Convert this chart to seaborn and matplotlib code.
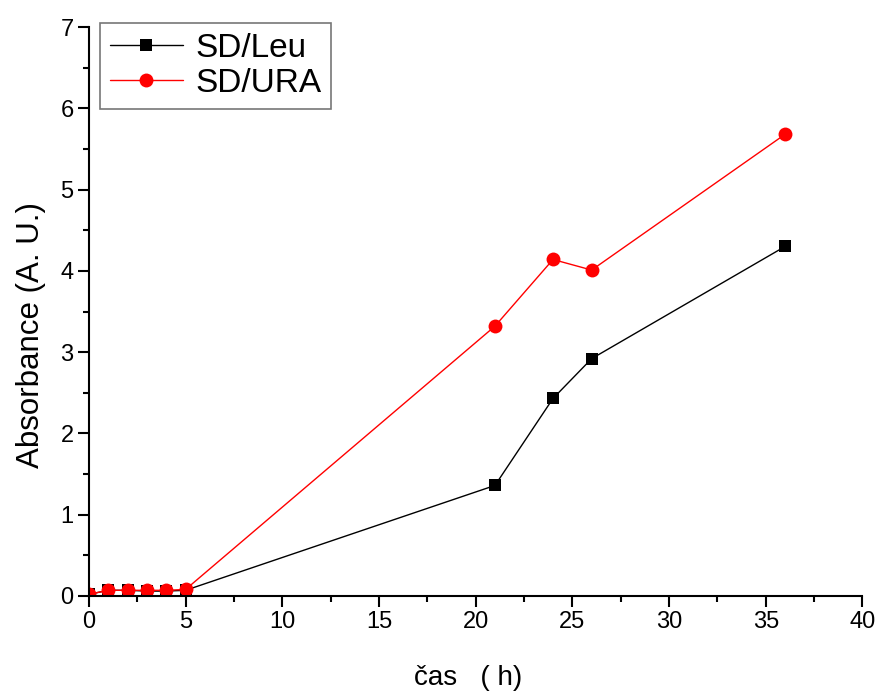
import pandas as pd
import seaborn as sns
import matplotlib.pyplot as plt
from matplotlib.lines import Line2D

# data
time_h = [0, 1, 2, 3, 4, 5, 21, 24, 26, 36]
sd_leu = [0.02, 0.07, 0.07, 0.06, 0.06, 0.07, 1.36, 2.43, 2.92, 4.30]
sd_ura = [0.02, 0.07, 0.07, 0.07, 0.07, 0.08, 3.32, 4.14, 4.01, 5.68]
series = ['SD/Leu', 'SD/URA']

df = pd.concat([
    pd.DataFrame({'cas': time_h, 'abs': sd_leu, 'medium': 'SD/Leu'}),
    pd.DataFrame({'cas': time_h, 'abs': sd_ura, 'medium': 'SD/URA'}),
])

sns.set_style("ticks", {'axes.edgecolor': 'black', 'text.color': 'black',
                        'xtick.color': 'black', 'ytick.color': 'black',
                        'axes.labelcolor': 'black'})
plt.rcParams['font.family'] = ['Liberation Sans', 'DejaVu Sans']

colors = {'SD/Leu': 'black', 'SD/URA': 'red'}
markers = {'SD/Leu': 's', 'SD/URA': 'o'}
msizes = {'SD/Leu': 9, 'SD/URA': 10}

fig = plt.figure(figsize=(8.8, 6.93), dpi=100)
ax = fig.add_axes([0.101, 0.14, 0.879, 0.821])

for name in series:
    sns.lineplot(data=df[df['medium'] == name], x='cas', y='abs', ax=ax,
                 color=colors[name], marker=markers[name], markersize=msizes[name],
                 markeredgewidth=0, linewidth=1, estimator=None, legend=False)

ax.set_xlim(0, 40)
ax.set_ylim(0, 7)
ax.set_xticks(range(0, 41, 5))
ax.set_xticks([x + 2.5 for x in range(0, 40, 5)], minor=True)
ax.set_yticks(range(0, 8))
ax.set_yticks([y + 0.5 for y in range(0, 7)], minor=True)
ax.tick_params(axis='both', which='major', direction='out', length=8, width=1.5,
               labelsize=17, pad=3)
ax.tick_params(axis='both', which='minor', direction='out', length=4.5, width=1.5)
for s in ['left', 'bottom']:
    ax.spines[s].set_linewidth(1.5)
sns.despine(ax=ax)

ax.set_xlabel('čas   ( h)', fontsize=20, labelpad=23)
ax.set_ylabel('Absorbance (A. U.)', fontsize=22.5, labelpad=10)
ax.xaxis.label.set_x(0.49)
ax.yaxis.label.set_y(0.459)

handles = [Line2D([], [], color=colors[n], marker=markers[n], markersize=msizes[n],
                  markeredgewidth=0, linewidth=1, label=n) for n in series]
leg = ax.legend(handles=handles, loc='upper left', bbox_to_anchor=(0.014, 1.007),
                fontsize=24, frameon=True, fancybox=False, edgecolor='#555555',
                handlelength=2.2, handletextpad=0.36, borderpad=0.3, labelspacing=0.12,
                borderaxespad=0)
leg.get_frame().set_linewidth(1.2)

fig.savefig('out.png', dpi=100)
